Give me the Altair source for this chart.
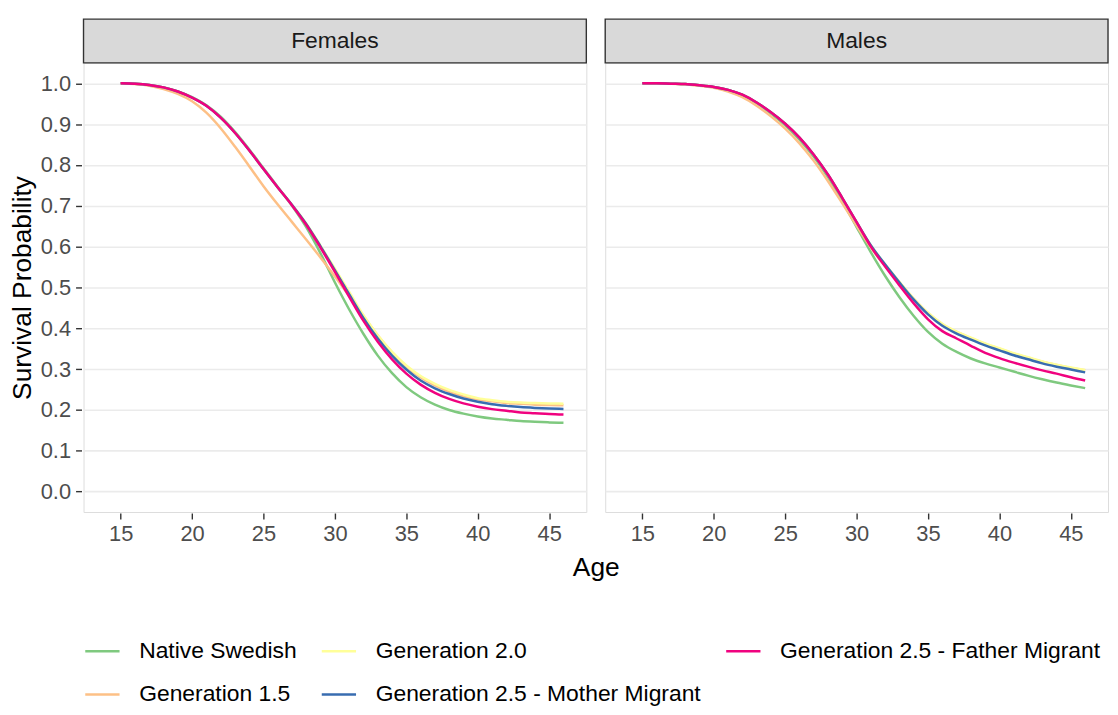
import altair as alt
import pandas as pd

FONT = "Liberation Sans"

ages = list(range(15, 47))

series_names = [
    "Native Swedish",
    "Generation 1.5",
    "Generation 2.0",
    "Generation 2.5 - Mother Migrant",
    "Generation 2.5 - Father Migrant",
]
series_colors = ["#7FC97F", "#FDC086", "#FFFF99", "#386CB0", "#F0027F"]

# legend shown in ggplot's column-major layout (3 columns, 2 rows)
legend_order = [
    "Native Swedish",
    "Generation 2.0",
    "Generation 2.5 - Father Migrant",
    "Generation 1.5",
    "Generation 2.5 - Mother Migrant",
]
legend_colors = [series_colors[series_names.index(n)] for n in legend_order]

# ---- Females (ages 15..46) ----
f_native = [1.000, 0.999, 0.996, 0.990, 0.980, 0.966, 0.946, 0.918, 0.881, 0.838,
            0.792, 0.746, 0.700, 0.647, 0.583, 0.512, 0.446, 0.386, 0.333, 0.290,
            0.256, 0.231, 0.213, 0.200, 0.191, 0.184, 0.179, 0.176, 0.173, 0.171,
            0.1695, 0.1684]
f_gen15 = [1.000, 0.998, 0.994, 0.986, 0.974, 0.956, 0.928, 0.890, 0.845, 0.797,
           0.748, 0.703, 0.660, 0.617, 0.573, 0.527, 0.479, 0.430, 0.382, 0.341,
           0.307, 0.280, 0.260, 0.245, 0.234, 0.226, 0.221, 0.217, 0.215, 0.213,
           0.212, 0.2115]
f_gen20 = [1.000, 0.999, 0.996, 0.990, 0.980, 0.965, 0.945, 0.916, 0.879, 0.836,
           0.790, 0.745, 0.702, 0.656, 0.602, 0.546, 0.489, 0.432, 0.383, 0.342,
           0.309, 0.283, 0.264, 0.249, 0.238, 0.229, 0.224, 0.220, 0.218, 0.217,
           0.216, 0.2154]
f_mother = [1.000, 0.999, 0.996, 0.990, 0.980, 0.965, 0.945, 0.916, 0.879, 0.836,
            0.790, 0.745, 0.702, 0.655, 0.600, 0.542, 0.483, 0.425, 0.375, 0.333,
            0.299, 0.272, 0.253, 0.239, 0.228, 0.220, 0.214, 0.210, 0.207, 0.205,
            0.2035, 0.2025]
f_father = [1.000, 0.999, 0.996, 0.990, 0.980, 0.965, 0.945, 0.916, 0.879, 0.836,
            0.790, 0.745, 0.701, 0.653, 0.597, 0.538, 0.477, 0.418, 0.367, 0.324,
            0.289, 0.262, 0.242, 0.227, 0.216, 0.208, 0.202, 0.198, 0.194, 0.192,
            0.190, 0.1887]

# ---- Males (ages 15..46) ----
m_native = [1.000, 1.000, 0.999, 0.998, 0.995, 0.991, 0.984, 0.971, 0.951, 0.926,
            0.897, 0.862, 0.820, 0.770, 0.711, 0.648, 0.586, 0.528, 0.476, 0.430,
            0.391, 0.362, 0.342, 0.326, 0.314, 0.304, 0.294, 0.284, 0.275, 0.267,
            0.260, 0.2535]
m_gen15 = [1.000, 1.000, 0.999, 0.997, 0.994, 0.989, 0.980, 0.966, 0.945, 0.919,
           0.889, 0.853, 0.810, 0.760, 0.706, 0.651, 0.598, 0.552, 0.511, 0.472,
           0.437, 0.410, 0.391, 0.376, 0.362, 0.350, 0.338, 0.328, 0.318, 0.310,
           0.303, 0.297]
m_gen20 = [1.000, 1.000, 0.999, 0.998, 0.995, 0.991, 0.984, 0.972, 0.953, 0.929,
           0.901, 0.867, 0.825, 0.776, 0.719, 0.660, 0.603, 0.556, 0.514, 0.473,
           0.438, 0.411, 0.392, 0.377, 0.363, 0.351, 0.339, 0.329, 0.319, 0.311,
           0.304, 0.298]
m_mother = [1.000, 1.000, 0.999, 0.998, 0.995, 0.991, 0.984, 0.972, 0.953, 0.929,
            0.901, 0.867, 0.825, 0.776, 0.719, 0.660, 0.603, 0.556, 0.512, 0.470,
            0.434, 0.406, 0.387, 0.372, 0.358, 0.346, 0.334, 0.324, 0.314, 0.306,
            0.299, 0.292]
m_father = [1.000, 1.000, 0.999, 0.998, 0.995, 0.991, 0.984, 0.972, 0.953, 0.929,
            0.901, 0.867, 0.825, 0.776, 0.719, 0.660, 0.600, 0.551, 0.505, 0.461,
            0.422, 0.393, 0.375, 0.357, 0.340, 0.327, 0.316, 0.306, 0.297, 0.289,
            0.280, 0.272]

females = dict(zip(series_names, [f_native, f_gen15, f_gen20, f_mother, f_father]))
males = dict(zip(series_names, [m_native, m_gen15, m_gen20, m_mother, m_father]))

rows = []
for sex, table in [("Females", females), ("Males", males)]:
    for k, name in enumerate(series_names):
        for a, v in zip(ages, table[name]):
            rows.append({"Sex": sex, "Series": name, "Draw": k, "Age": a, "Survival": v})
df = pd.DataFrame(rows)

x_ticks = [15, 20, 25, 30, 35, 40, 45]
y_ticks = [round(i * 0.1, 1) for i in range(11)]

W, H = 506, 452
STRIP = 44

x_scale = alt.Scale(domain=[12.4, 47.6], nice=False, zero=False)
y_scale = alt.Scale(domain=[-0.05, 1.05], nice=False, zero=False)

legend = alt.Legend(
    title=None,
    orient="none",
    legendX=6,
    legendY=579,
    padding=0,
    direction="horizontal",
    columns=3,
    symbolType="M-1.5,0L1.5,0",
    symbolSize=529,
    symbolStrokeWidth=2.5,
    labelFontSize=23,
    labelFont=FONT,
    labelColor="#000000",
    labelOffset=24,
    columnPadding=19,
    rowPadding=18.6,
    labelLimit=500,
)

y_axis = alt.Axis(values=y_ticks, format=".1f", title="Survival Probability",
                  titleFontSize=26.5, titleFont=FONT, titleColor="#000000",
                  titleFontWeight="normal", titlePadding=4,
                  labelFontSize=22, labelFont=FONT, labelColor="#4D4D4D",
                  labelPadding=5, tickSize=6, tickColor="#333333", tickWidth=1.4,
                  domain=False, grid=True, gridColor="#EBEBEB", gridWidth=1.6)
x_axis = alt.Axis(values=x_ticks, title=None, grid=False, domain=False,
                  labelFontSize=22, labelFont=FONT, labelColor="#4D4D4D",
                  labelPadding=5, tickSize=6, tickColor="#333333", tickWidth=1.4)

lines = alt.Chart().mark_line(strokeWidth=2.5, interpolate="monotone").encode(
    x=alt.X("Age:Q", scale=x_scale, axis=x_axis),
    y=alt.Y("Survival:Q", scale=y_scale, axis=y_axis),
    color=alt.Color("Series:N", scale=alt.Scale(domain=legend_order, range=legend_colors),
                    legend=legend),
    order=alt.Order("Age:Q"),
)

one_per_panel = "datum.Age == 15 && datum.Draw == 0"
strip = alt.Chart().transform_filter(one_per_panel).mark_rect(
    fill="#D9D9D9", stroke="#333333", strokeWidth=1.4
).encode(x=alt.value(0), x2=alt.value(W), y=alt.value(-STRIP), y2=alt.value(0))
strip_text = alt.Chart().transform_filter(one_per_panel).mark_text(
    fontSize=23, font=FONT, color="#1A1A1A"
).encode(x=alt.value(W / 2), y=alt.value(-STRIP / 2), text="Sex:N")

layered = alt.layer(lines, strip, strip_text, data=df).properties(width=W, height=H)

chart = layered.facet(
    column=alt.Column(
        "Sex:N",
        title="Age",
        header=alt.Header(labels=False, titleOrient="bottom", titleFontSize=26.5,
                          titleFont=FONT, titleColor="#000000", titleFontWeight="normal",
                          titlePadding=0),
    ),
    spacing=15,
).properties(
    padding={"left": 1, "top": 7, "right": 0, "bottom": 0}
).configure_view(
    stroke="#333333", strokeWidth=1.4
).configure(font=FONT)

chart.save("out.html", embed_options={"renderer": "svg", "actions": False})
